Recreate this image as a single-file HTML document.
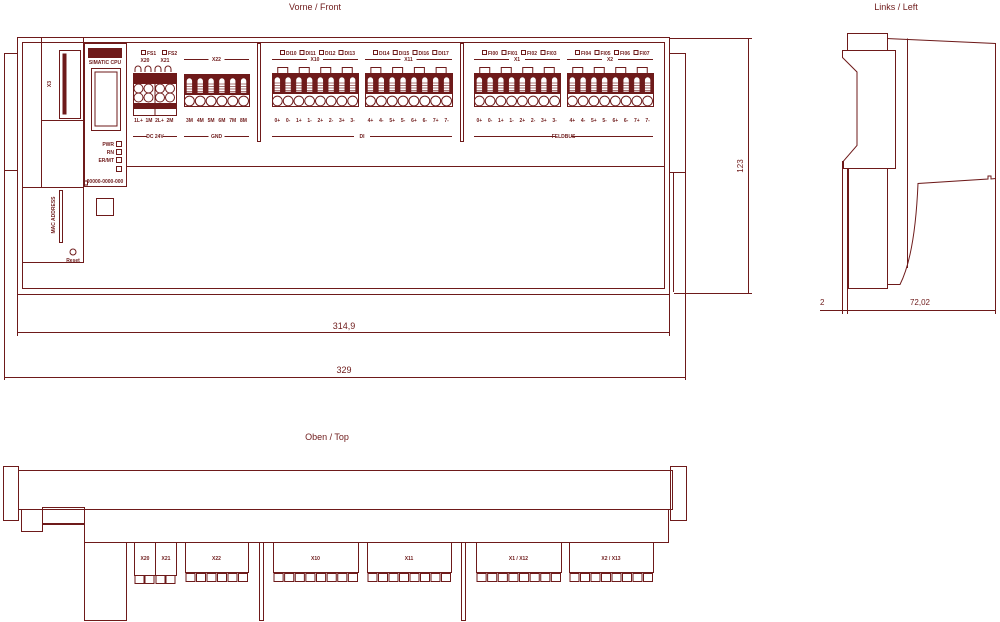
<!DOCTYPE html>
<html><head><meta charset="utf-8"><style>
html,body{margin:0;padding:0;background:#fff;width:1000px;height:622px;overflow:hidden}
svg{display:block}
text{font-family:"Liberation Sans",sans-serif;fill:#6e1a1a}
.b{font-weight:bold;font-size:5px}
</style></head><body>
<svg id="s" width="1000" height="622" viewBox="0 0 1000 622" xmlns="http://www.w3.org/2000/svg">
<g fill="none" stroke="#6e1a1a" stroke-width="1" id="g">
<!-- FRONT -->
<rect x="17.5" y="37.5" width="652" height="257"/>
<rect x="22.5" y="42.5" width="642" height="246"/>
<rect x="4.5" y="53.5" width="13" height="117"/>
<path d="M4.5 170.5V380 M17.5 170.5V336"/>
<rect x="669.5" y="53.5" width="16" height="119"/>
<path d="M685.5 172.5V380 M669.5 172.5V336 M673.5 172.5V292"/>
<path d="M126 166.5H665"/>
<rect x="41.5" y="37.5" width="42" height="150"/>
<path d="M41.5 120.5H83.5"/>
<rect x="59.5" y="50.5" width="21" height="68"/>
<rect x="63" y="54" width="3" height="60" fill="#6e1a1a"/>
<rect x="22.5" y="187.5" width="61" height="75"/>
<rect x="84.5" y="43.5" width="42" height="143"/>
<rect x="88.5" y="48.5" width="33" height="9" fill="#6e1a1a"/>
<path d="M91.5 68.5H120.5V130.5H91.5Z M95 72H117V126H95Z"/>
<rect x="59.5" y="190.5" width="3" height="52"/>
<circle cx="73" cy="252" r="3"/>
<rect x="96.5" y="198.5" width="17" height="17"/>
<rect x="257.5" y="43.5" width="3" height="98"/>
<rect x="460.5" y="43.5" width="3" height="98"/>
<rect x="84.5" y="181" width="3" height="4"/>
<!-- dims -->
<path d="M17.5 332.5H669.5 M4.5 377.5H685.5 M670 38.5H752 M674 293.5H752 M748.5 38.5V293.5"/>
<!-- SIDE -->
<rect x="847.5" y="33.5" width="40" height="17"/>
<path d="M887.5 38.5L995.5 43.5V178.5L991 179V176H988V179L918 183.5Q915 255 900 284.5H887.5"/>
<path d="M907.5 38.5V268"/>
<path d="M842.5 50.5H895.5V168.5H843.5V161L857 145.5V143L857 72L842.5 57.5Z"/>
<rect x="848.5" y="168.5" width="39" height="120"/>
<path d="M842.5 161V314 M847.5 168V314 M995.5 178V314 M820 310.5H995.5"/>
<!-- TOP -->
<rect x="18.5" y="470.5" width="654" height="39"/>
<rect x="3.5" y="466.5" width="15" height="54"/>
<rect x="670.5" y="466.5" width="16" height="54"/>
<rect x="84.5" y="509.5" width="584" height="33"/>
<rect x="21.5" y="509.5" width="21" height="22"/>
<rect x="42.5" y="507.5" width="42" height="16"/>
<path d="M42.5 524.5H84.5"/>
<rect x="84.5" y="542.5" width="42" height="78"/>
<rect x="134.5" y="542.5" width="21" height="33"/>
<rect x="155.5" y="542.5" width="21" height="33"/>
<rect x="259.5" y="542.5" width="4" height="78"/>
<rect x="461.5" y="542.5" width="4" height="78"/>
</g>
<g id="t">
<text x="315" y="10" font-size="9" text-anchor="middle">Vorne / Front</text>
<text x="896" y="10" font-size="9" text-anchor="middle">Links / Left</text>
<text x="327" y="440" font-size="9" text-anchor="middle">Oben / Top</text>
<text x="344" y="329" font-size="9" text-anchor="middle">314,9</text>
<text x="344" y="373" font-size="9" text-anchor="middle">329</text>
<text x="743" y="166" font-size="8" text-anchor="middle" transform="rotate(-90 743 166)">123</text>
<text x="820" y="305" font-size="8">2</text>
<text x="920" y="305" font-size="8" text-anchor="middle">72,02</text>
<text class="b" x="105" y="64" text-anchor="middle">SIMATIC CPU</text>
<text class="b" x="51" y="84" text-anchor="middle" transform="rotate(-90 51 84)">X3</text>
<text class="b" x="55" y="215" text-anchor="middle" transform="rotate(-90 55 215)">MAC ADDRESS</text>
<text class="b" x="73" y="262" text-anchor="middle">Reset</text>
<text class="b" x="114" y="146" text-anchor="end">PWR</text>
<text class="b" x="114" y="154" text-anchor="end">RN</text>
<text class="b" x="114" y="162" text-anchor="end">ER/MT</text>
<text class="b" x="105" y="183" text-anchor="middle" font-size="4">00000-0000-000</text>
</g>
</svg>
<script>
const NS="http://www.w3.org/2000/svg",g=document.getElementById('g'),t=document.getElementById('t');
function el(p,tag,a,txt){const e=document.createElementNS(NS,tag);for(const k in a)e.setAttribute(k,a[k]);if(txt!==undefined)e.textContent=txt;p.appendChild(e);return e;}
function line(x1,y1,x2,y2){el(g,'path',{d:`M${x1} ${y1}H${x2}`});}
function lbl(x,y,s,anchor){el(t,'text',{class:'b',x:x,y:y,'text-anchor':anchor||'middle'},s);}
function lineLabel(x1,x2,y,s){const m=(x1+x2)/2;line(x1,y+.5,m-8,y+.5);line(m+8,y+.5,x2,y+.5);lbl(m,y+2,s);}
// PWR squares
[141,149,157,166].forEach(y=>el(g,'rect',{x:116.5,y:y+.5,width:5,height:5}));
// terminal block
function block(x1,x2,n,y1,y2,tabs){
 const w=(x2-x1)/n;
 if(tabs){for(let i=0;i<tabs;i++){const cx=x1+(i+.5)*(x2-x1)/tabs;el(g,'rect',{x:cx-5,y:67.5,width:10,height:6});}}
 el(g,'rect',{x:x1+.5,y:y1+.5,width:x2-x1,height:y2-y1});
 el(g,'rect',{x:x1+1,y:y1+1,width:x2-x1-1,height:20,fill:'#6e1a1a',stroke:'none'});
 for(let i=0;i<n;i++){const cx=x1+(i+.5)*w;
  el(g,'path',{d:`M${cx-3} ${y1+7}a3 3 0 0 1 6 0v12h-6z`,fill:'#fff',stroke:'#6e1a1a','stroke-width':.6});
  for(let k=0;k<4;k++)el(g,'path',{d:`M${cx-3} ${y1+10+k*2.5}h6`,'stroke-width':.6});
  el(g,'circle',{cx:cx,cy:y2-5,r:w/2-.5});}
}
const pins1=['0+','0-','1+','1-','2+','2-','3+','3-'],pins2=['4+','4-','5+','5-','6+','6-','7+','7-'];
function group(x1,x2,name,leds,pins){
 leds.forEach((s,i)=>{const x=x1+8+i*(x2-x1-8)/4;el(g,'rect',{x:x+.5,y:50.5,width:4,height:4});lbl(x+6,55,s,'start');});
 lineLabel(x1,x2,59,name);
 block(x1,x2,8,73,106,4);
 pins.forEach((p,i)=>lbl(x1+(i+.5)*(x2-x1)/8,122,p));
}
group(272,358,'X10',['DI10','DI11','DI12','DI13'],pins1);
group(365,452,'X11',['DI14','DI15','DI16','DI17'],pins2);
group(474,560,'X1',['FI00','FI01','FI02','FI03'],pins1);
group(567,653,'X2',['FI04','FI05','FI06','FI07'],pins2);
lineLabel(272,452,136,'DI');lineLabel(474,653,136,'FELDBUS');
// X20/X21
el(g,'rect',{x:141.5,y:50.5,width:4,height:4});lbl(147,55,'FS1','start');
el(g,'rect',{x:162.5,y:50.5,width:4,height:4});lbl(168,55,'FS2','start');
lbl(145,62,'X20');lbl(165,62,'X21');
[138,148,158,168].forEach(x=>el(g,'path',{d:`M${x-3} 72v-3a3 3 0 0 1 6 0v3`}));
el(g,'rect',{x:133.5,y:73.5,width:43,height:42});
el(g,'rect',{x:134,y:74,width:42,height:10,fill:'#6e1a1a',stroke:'none'});
el(g,'rect',{x:134,y:103,width:42,height:6,fill:'#6e1a1a',stroke:'none'});
el(g,'path',{d:'M155 73V115'});
[138.5,148.5,160,170].forEach(x=>{el(g,'circle',{cx:x,cy:88.5,r:4.5});el(g,'circle',{cx:x,cy:97.5,r:4.5});});
['1L+','1M','2L+','2M'].forEach((s,i)=>lbl(138.5+i*10.5,122,s));
lineLabel(133,177,136,'DC 24V');
// X22
lineLabel(184,249,59,'X22');
block(184,249,6,74,106,0);
['3M','4M','5M','6M','7M','8M'].forEach((s,i)=>lbl(189.5+i*10.8,122,s));
lineLabel(184,249,136,'GND');
// top view connectors
function tcon(x1,x2,n,name){el(g,'rect',{x:x1+.5,y:542.5,width:x2-x1,height:30});lbl((x1+x2)/2,560,name);
 const w=(x2-x1)/n;for(let i=0;i<n;i++)el(g,'rect',{x:x1+i*w+1,y:573.5,width:w-1.5,height:8});}
tcon(185,248,6,'X22');tcon(273,358,8,'X10');tcon(367,451,8,'X11');tcon(476,561,8,'X1 / X12');tcon(569,653,8,'X2 / X13');
lbl(145,560,'X20');lbl(166,560,'X21');
[134.5,144.5,155.5,165.5].forEach(x=>el(g,'rect',{x:x+.5,y:575.5,width:9,height:8}));
</script>
</body></html>
